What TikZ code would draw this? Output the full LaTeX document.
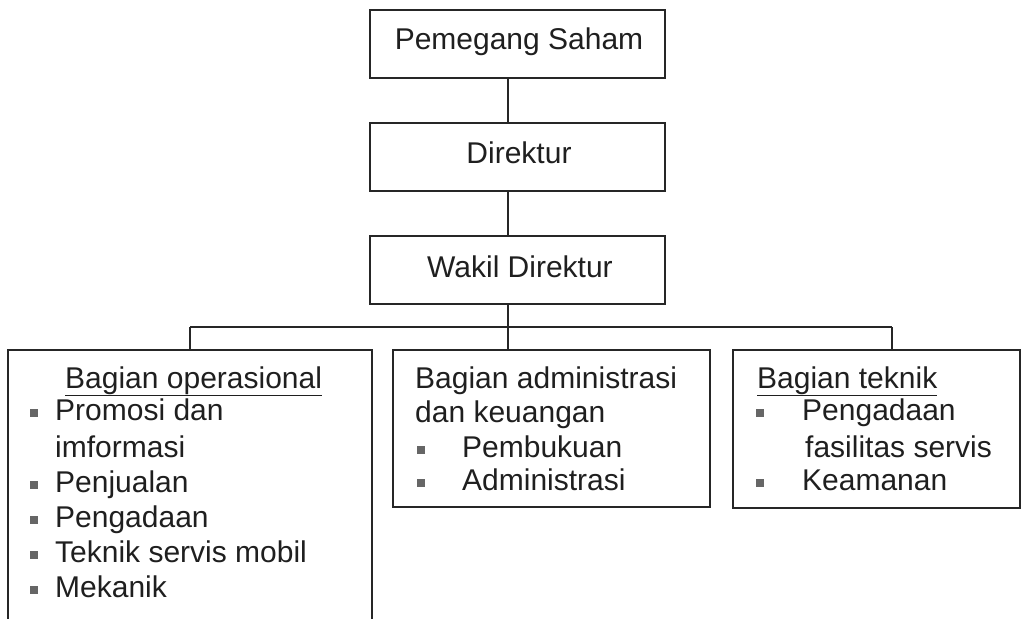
\documentclass[tikz,border=0pt]{standalone}
\usepackage{fontspec}
\setmainfont{Liberation Sans}
\begin{document}
\begin{tikzpicture}[x=1pt,y=-1pt,
  box/.style={draw=black!85, line width=1.6pt, rectangle, inner sep=0pt, fill=none},
  txt/.style={inner sep=0pt, anchor=base west, text=black!88, font=\fontsize{30}{36}\selectfont},
  ctxt/.style={txt, anchor=base},
  bul/.style={rectangle, fill=black!60, minimum size=8pt, inner sep=0pt},
  wire/.style={draw=black!85, line width=1.5pt}
]
\useasboundingbox (0,0) rectangle (1021,619);

% top chain
\node[box, minimum width=295pt, minimum height=68pt] (ps) at (517.5,44) {};
\node[box, minimum width=295pt, minimum height=68pt] (dir) at (517.5,157) {};
\node[box, minimum width=295pt, minimum height=68pt] (wd) at (517.5,270) {};
\node[ctxt] (tps) at (519,49) {Pemegang Saham};
\node[ctxt] (tdir) at (519,163) {Direktur};
\node[ctxt] (twd) at (520,277) {Wakil Direktur};

% department boxes (the first one runs down to the page edge)
\node[box, minimum width=364pt, minimum height=272pt] (ops) at (190,486) {};
\node[box, minimum width=317pt, minimum height=157pt] (adm) at (551.5,428.5) {};
\node[box, minimum width=287pt, minimum height=158pt] (tek) at (876.5,429) {};

% connectors
\coordinate (spine) at (508,0);
\coordinate (busL) at (190,327);
\coordinate (busR) at (892,327);
\draw[wire] (spine |- ps.south) -- (spine |- dir.north);
\draw[wire] (spine |- dir.south) -- (spine |- wd.north);
\draw[wire] (spine |- wd.south) -- (spine |- busL);
\draw[wire] (busL) -- (busR);
\draw[wire] (busL) -- (busL |- ops.north);
\draw[wire] (spine |- busL) -- (spine |- adm.north);
\draw[wire] (busR) -- (busR |- tek.north);

% Bagian operasional
\node[txt] (o0) at (65,388) {\underline{Bagian operasional}};
\node[bul] (ob1) at (34,413) {};
\node[txt] (o1) at (55,420) {Promosi dan};
\node[txt] (o1b) at (55,457) {imformasi};
\node[bul] (ob2) at (34,485) {};
\node[txt] (o2) at (55,492) {Penjualan};
\node[bul] (ob3) at (34,520) {};
\node[txt] (o3) at (55,527) {Pengadaan};
\node[bul] (ob4) at (34,555) {};
\node[txt] (o4) at (55,562) {Teknik servis mobil};
\node[bul] (ob5) at (34,590) {};
\node[txt] (o5) at (55,597) {Mekanik};

% Bagian administrasi dan keuangan
\node[txt] (a0) at (415,388) {Bagian administrasi};
\node[txt] (a0b) at (415,422) {dan keuangan};
\node[bul] (ab1) at (421,450) {};
\node[txt] (a1) at (462,457) {Pembukuan};
\node[bul] (ab2) at (421,483) {};
\node[txt] (a2) at (462,490) {Administrasi};

% Bagian teknik
\node[txt] (t0) at (757,388) {\underline{Bagian teknik}};
\node[bul] (tb1) at (760,413) {};
\node[txt] (t1) at (802,420) {Pengadaan};
\node[txt] (t1b) at (805,457) {fasilitas servis};
\node[bul] (tb2) at (760,483) {};
\node[txt] (t2) at (802,490) {Keamanan};
\end{tikzpicture}
\end{document}
